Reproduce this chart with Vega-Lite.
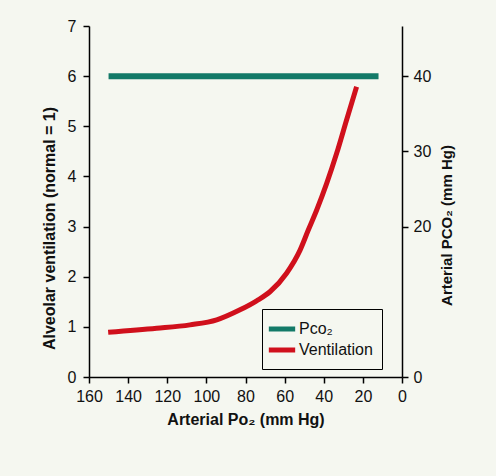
{
  "$schema": "https://vega.github.io/schema/vega-lite/v6.json",
  "width": 313,
  "height": 351,
  "autosize": "none",
  "padding": {"left": 89, "top": 26, "right": 94, "bottom": 99},
  "background": "#f5f7f0",
  "config": {
    "view": {"stroke": null},
    "font": "Liberation Sans",
    "axis": {
      "grid": false,
      "domainColor": "#000",
      "domainWidth": 1.5,
      "tickColor": "#000",
      "tickWidth": 1.5,
      "tickSize": 6,
      "labelPadding": 5,
      "labelFont": "Liberation Sans",
      "labelFontSize": 16,
      "labelColor": "#111",
      "titleFont": "Liberation Sans",
      "titleFontSize": 16,
      "titleFontWeight": "bold",
      "titleColor": "#111"
    }
  },
  "encoding": {
    "x": {"field": "po2", "type": "quantitative",
          "scale": {"domain": [0, 160], "reverse": true, "nice": false},
          "axis": {"values": [0, 20, 40, 60, 80, 100, 120, 140, 160], "title": "Arterial Po₂ (mm Hg)",
                   "titlePadding": 7, "labelOverlap": false, "labelFlush": false}},
    "color": {"field": "series", "type": "nominal",
              "scale": {"domain": ["Pco₂", "Ventilation"], "range": ["#137a68", "#d0101c"]},
              "legend": {"title": null, "orient": "none", "legendX": 173, "legendY": 283,
                         "symbolType": "M-1.55,0H1.55", "symbolStrokeWidth": 5, "symbolSize": 289,
                         "labelFontSize": 16, "labelFont": "Liberation Sans", "labelColor": "#111",
                         "strokeColor": "#000", "padding": 9, "labelOffset": 6, "rowPadding": 0}}
  },
  "layer": [
    {
      "data": {"values": [
        {"series": "Pco₂", "po2": 150, "pco2": 40},
        {"series": "Pco₂", "po2": 12, "pco2": 40}
      ]},
      "mark": {"type": "line", "strokeWidth": 6},
      "encoding": {
        "y": {"field": "pco2", "type": "quantitative",
              "scale": {"domain": [0, 46.667], "nice": false},
              "axis": {"orient": "right", "values": [0, 20, 30, 40], "title": "Arterial PCO₂ (mm Hg)",
                       "labelOverlap": false, "labelFlush": false, "titleFontSize": 15,
                       "titleAngle": 270, "titleBaseline": "middle", "titleAlign": "center", "titleX": 44, "titleY": 199}}
      }
    },
    {
      "data": {"values": [
        {"series": "Ventilation", "po2": 150.2, "vent": 0.89},
        {"series": "Ventilation", "po2": 125.4, "vent": 0.97},
        {"series": "Ventilation", "po2": 108.4, "vent": 1.04},
        {"series": "Ventilation", "po2": 94.7, "vent": 1.14},
        {"series": "Ventilation", "po2": 82.8, "vent": 1.34},
        {"series": "Ventilation", "po2": 74.3, "vent": 1.52},
        {"series": "Ventilation", "po2": 67.5, "vent": 1.7},
        {"series": "Ventilation", "po2": 59.0, "vent": 2.07},
        {"series": "Ventilation", "po2": 52.1, "vent": 2.53},
        {"series": "Ventilation", "po2": 47.9, "vent": 2.93},
        {"series": "Ventilation", "po2": 43.6, "vent": 3.33},
        {"series": "Ventilation", "po2": 38.5, "vent": 3.86},
        {"series": "Ventilation", "po2": 33.4, "vent": 4.46},
        {"series": "Ventilation", "po2": 28.3, "vent": 5.13},
        {"series": "Ventilation", "po2": 23.2, "vent": 5.79}
      ]},
      "mark": {"type": "line", "strokeWidth": 5, "interpolate": "monotone"},
      "encoding": {
        "y": {"field": "vent", "type": "quantitative",
              "scale": {"domain": [0, 7], "nice": false},
              "axis": {"orient": "left", "values": [0, 1, 2, 3, 4, 5, 6, 7], "title": "Alveolar ventilation (normal = 1)",
                       "labelOverlap": false, "labelFlush": false,
                       "labelPadding": 7, "titleAngle": 270, "titleBaseline": "middle", "titleAlign": "center", "titleX": -40, "titleY": 202}}
      }
    }
  ],
  "resolve": {"scale": {"y": "independent"}}
}
